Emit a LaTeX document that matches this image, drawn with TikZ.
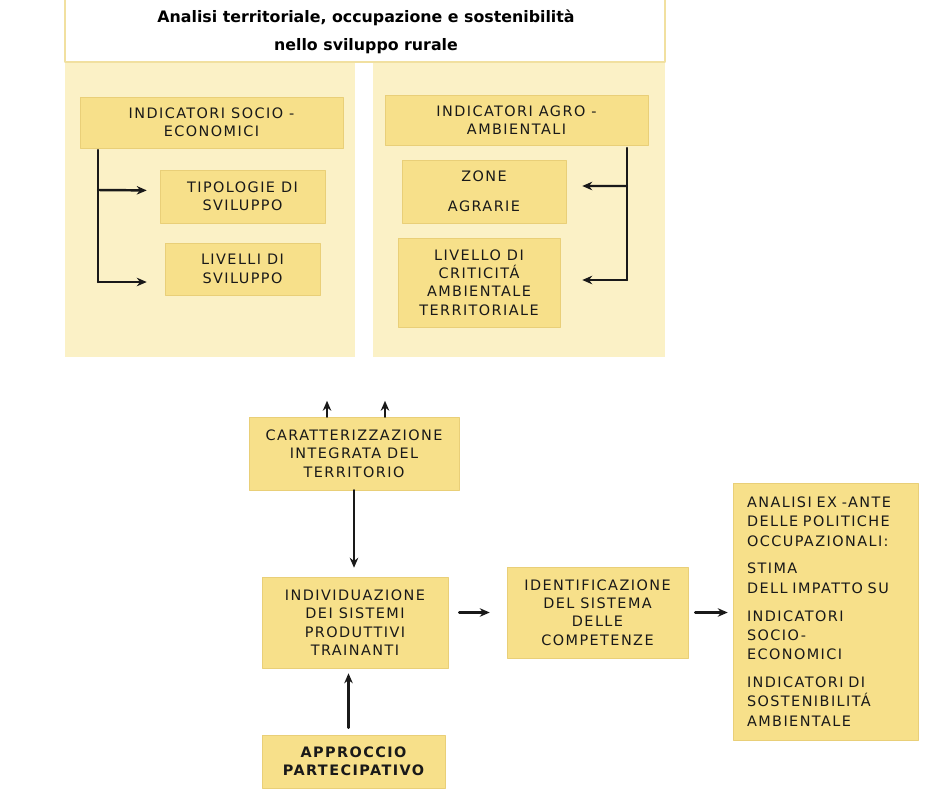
\documentclass[tikz,border=0pt]{standalone}
\usepackage{fontspec}
\setmainfont{DejaVu Sans}
\newfontfamily\boxfont[LetterSpace=10]{DejaVu Sans}
\definecolor{panelyellow}{HTML}{FBF1C6}
\definecolor{paneledge}{HTML}{F1E0A0}
\definecolor{boxyellow}{HTML}{F7E08A}
\definecolor{boxedge}{HTML}{E9CF78}
\usetikzlibrary{arrows.meta}
\begin{document}
\begin{tikzpicture}[x=0.02cm,y=-0.02cm,>={Stealth[length=2mm,width=1.7mm]}, line join=round, line cap=round,
	box/.style={fill=boxyellow,draw=boxedge,line width=0.3pt,inner sep=0pt,align=center,
		font=\boxfont\fontsize{8.2}{10.5}\selectfont,text=black!90},
	arr/.style={->,line width=1.4pt,black!90}]
	\useasboundingbox (0,0) rectangle (945,794);
	% panels
	\fill[panelyellow] (65,62) rectangle (355,357);
	\fill[panelyellow] (373,62) rectangle (665,357);
	\draw[paneledge,line width=1.6pt,fill=white] (65,-30) rectangle (665,62);
	\node (title) at (366,32) [align=center,font=\bfseries\fontsize{9}{16}\selectfont] {Analisi territoriale, occupazione e sostenibilità\\nello sviluppo rurale};
	% left panel
	\node (socio) at (211.5,122.5) [box,minimum width=5.26cm,minimum height=1.02cm] {INDICATORI SOCIO -\\ECONOMICI};
	\node (tipo) at (242.5,196.5) [box,minimum width=3.3cm,minimum height=1.06cm] {TIPOLOGIE DI\\SVILUPPO};
	\node (livelli) at (242.5,269) [box,minimum width=3.1cm,minimum height=1.04cm] {LIVELLI DI\\SVILUPPO};
	\coordinate (sTop) at (98,150);
	\coordinate (sBot) at (98,282);
	\draw[line width=1.4pt,black!90] (sTop)--(sBot);
	\draw[arr,shorten >=0.26cm] (sTop |- 0,190)--([yshift=0.12cm]tipo.west);
	\draw[arr,shorten >=0.36cm] (sBot)--(sBot -| livelli.west);
	% right panel
	\node (agro) at (516.5,120) [box,minimum width=5.26cm,minimum height=1cm] {INDICATORI AGRO -\\AMBIENTALI};
	\node (zone) at (484,191.5) [box,minimum width=3.28cm,minimum height=1.26cm] {ZONE\\[6.5pt]AGRARIE};
	\node (criti) at (479,282.5) [box,minimum width=3.24cm,minimum height=1.78cm] {LIVELLO DI\\CRITICITÁ\\AMBIENTALE\\TERRITORIALE};
	\coordinate (aTop) at (627,148);
	\coordinate (aBot) at (627,280);
	\draw[line width=1.4pt,black!90] (aTop)--(aBot);
	\draw[arr,shorten >=0.32cm] (aTop |- 0,186)--([yshift=0.11cm]zone.east);
	\draw[arr,shorten >=0.44cm] (aBot)--(aBot -| criti.east);
	% chain
	\node (carat) at (354,453.5) [box,minimum width=4.2cm,minimum height=1.46cm] {CARATTERIZZAZIONE\\INTEGRATA DEL\\TERRITORIO};
	\foreach \dx in {-0.54,0.62}
	\draw[arr] ([xshift=\dx cm]carat.north)--++(0,-16);
	\node (indiv) at (355,622.5) [box,minimum width=3.72cm,minimum height=1.82cm] {INDIVIDUAZIONE\\DEI SISTEMI\\PRODUTTIVI\\TRAINANTI};
	\node (ident) at (597.5,612.5) [box,minimum width=3.62cm,minimum height=1.82cm] {IDENTIFICAZIONE\\DEL SISTEMA\\DELLE\\COMPETENZE};
	\node (analisi) at (825.5,611.5) [box,minimum width=3.7cm,minimum height=5.14cm,align=left,text width=3.14cm,
		font=\boxfont\fontsize{8.2}{11}\selectfont] {ANALISI EX -ANTE\\DELLE POLITICHE\\OCCUPAZIONALI:\\[4.8pt]STIMA\\DELL IMPATTO SU\\[4.8pt]INDICATORI\\SOCIO-\\ECONOMICI\\[4.8pt]INDICATORI DI\\SOSTENIBILITÁ\\AMBIENTALE};
	\node (approccio) at (353.5,761.5) [box,minimum width=3.66cm,minimum height=1.06cm,
		font=\boxfont\bfseries\fontsize{8.2}{10.5}\selectfont] {APPROCCIO\\PARTECIPATIVO};
	\draw[arr,shorten >=0.18cm] (carat.south)--(carat.south |- indiv.north);
	\draw[arr,shorten <=0.22cm,shorten >=0.34cm] (ident.west -| indiv.east)--(ident.west);
	\draw[arr,shorten <=0.14cm,shorten >=0.1cm] (ident.east)--(ident.east -| analisi.west);
	\draw[arr,shorten <=0.14cm,shorten >=0.1cm] ([xshift=-0.1cm]approccio.north)--([xshift=-0.1cm]approccio.north |- indiv.south);
\end{tikzpicture}
\end{document}
